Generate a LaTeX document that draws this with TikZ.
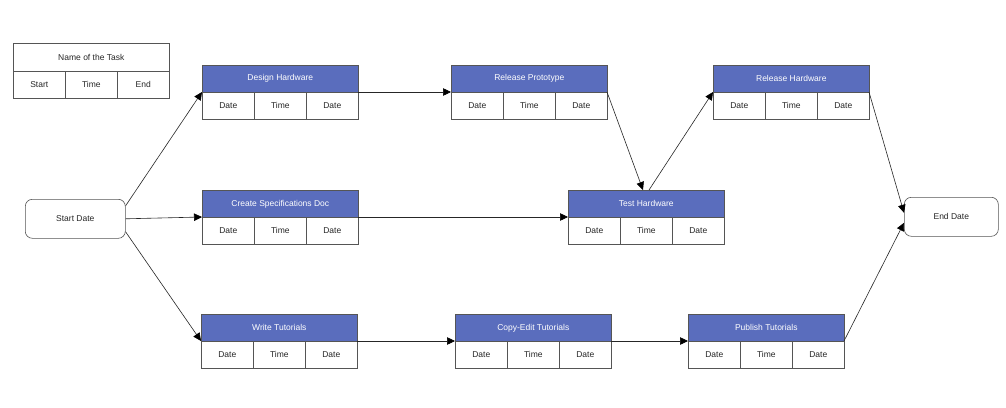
\documentclass[tikz,border=0pt]{standalone}
\usepackage{fontspec}
\setmainfont{Liberation Sans}
\usetikzlibrary{arrows.meta}
\definecolor{hdr}{HTML}{5A6DBD}
\definecolor{ln}{HTML}{555555}
\tikzset{
  cellbox/.style={draw=ln, line width=0.6pt, fill=white},
  hdrbox/.style={draw=ln, line width=0.6pt, fill=hdr},
  hdrtext/.style={text=white, font=\fontsize{8.5}{10}\selectfont},
  celltext/.style={text=black!85, font=\fontsize{8.5}{10}\selectfont},
  conn/.style={draw=black!85, line width=0.6pt, -{Triangle[length=8pt,width=7.5pt,color=black]}},
  roundbox/.style={draw=ln, line width=0.6pt, rounded corners=7pt, fill=white, celltext}
}
% task box: #1 name, #2 x-left, #3 y-top, #4 title, #5 #6 #7 cells
\newcommand{\taskbox}[7]{%
  \node[hdrbox, minimum width=156pt, minimum height=27pt, anchor=north west, inner sep=0pt] (#1h) at (#2,#3) {};
  \node[hdrtext] at (#1h.center) {#4};
  \node[cellbox, minimum width=52pt, minimum height=27pt, anchor=north west, inner sep=0pt, celltext] (#1a) at (#2,#3+27) {#5};
  \node[cellbox, minimum width=52pt, minimum height=27pt, anchor=north west, inner sep=0pt, celltext] (#1b) at (#2+52,#3+27) {#6};
  \node[cellbox, minimum width=52pt, minimum height=27pt, anchor=north west, inner sep=0pt, celltext] (#1c) at (#2+104,#3+27) {#7};
  \coordinate (#1W) at (#2,#3+27);
  \coordinate (#1E) at (#2+156,#3+27);
  \coordinate (#1N) at (#2+78,#3);
}
\begin{document}
\begin{tikzpicture}[x=1pt,y=-1pt]
\useasboundingbox (0,0) rectangle (1006,407);
\fill[white] (0,0) rectangle (1006,407);

% legend
\node[cellbox, minimum width=156pt, minimum height=28pt, anchor=north west, inner sep=0pt, celltext] (lgh) at (13,43) {Name of the Task};
\node[cellbox, minimum width=52pt, minimum height=27pt, anchor=north west, inner sep=0pt, celltext] (lga) at (13,71) {Start};
\node[cellbox, minimum width=52pt, minimum height=27pt, anchor=north west, inner sep=0pt, celltext] (lgb) at (65,71) {Time};
\node[cellbox, minimum width=52pt, minimum height=27pt, anchor=north west, inner sep=0pt, celltext] (lgc) at (117,71) {End};

\taskbox{dh}{202}{65}{Design Hardware}{Date}{Time}{Date}
\taskbox{rp}{451}{65}{Release Prototype}{Date}{Time}{Date}
\taskbox{rh}{713}{65}{Release Hardware}{Date}{Time}{Date}
\taskbox{cs}{202}{190}{Create Specifications Doc}{Date}{Time}{Date}
\taskbox{th}{568}{190}{Test Hardware}{Date}{Time}{Date}
\taskbox{wt}{201}{314}{Write Tutorials}{Date}{Time}{Date}
\taskbox{ce}{455}{314}{Copy-Edit Tutorials}{Date}{Time}{Date}
\taskbox{pt}{688}{314}{Publish Tutorials}{Date}{Time}{Date}

\node[roundbox, minimum width=100pt, minimum height=39pt, anchor=north west, inner sep=0pt] (sd) at (25,199) {Start Date};
\node[roundbox, minimum width=94pt, minimum height=39pt, anchor=north west, inner sep=0pt] (ed) at (904,197) {End Date};

\coordinate (sdA) at ([yshift=13pt]sd.east);
\coordinate (sdC) at ([yshift=-13pt]sd.east);
\coordinate (edA) at ([yshift=4pt]ed.west);
\coordinate (edB) at ([yshift=-6pt]ed.west);
\coordinate (thN1) at ([xshift=-3pt]thN);
\coordinate (thN2) at ([xshift=3pt]thN);

\draw[conn] (sdA) -- (dhW);
\draw[conn] (sd.east) -- (csW);
\draw[conn] (sdC) -- (wtW);
\draw[conn] (dhE) -- (rpW);
\draw[conn] (rpE) -- (thN1);
\draw[conn] (thN2) -- (rhW);
\draw[conn] (csE) -- (thW);
\draw[conn] (rhE) -- (edA);
\draw[conn] (wtE) -- (ceW);
\draw[conn] (ceE) -- (ptW);
\draw[conn] (ptE) -- (edB);
\end{tikzpicture}
\end{document}
